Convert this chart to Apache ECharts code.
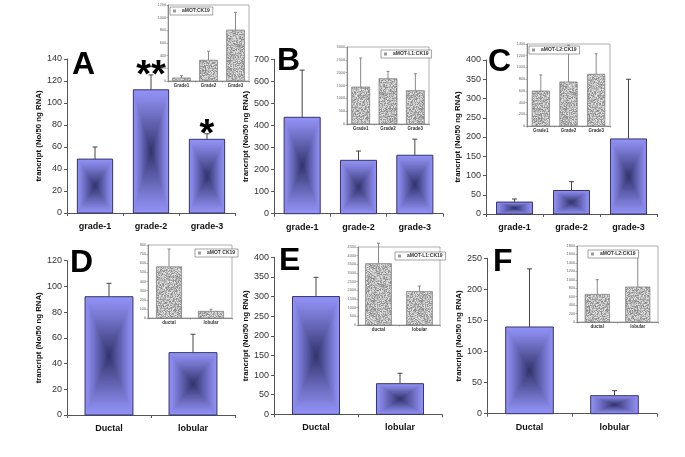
<!DOCTYPE html>
<html><head><meta charset="utf-8">
<script src="https://cdn.jsdelivr.net/npm/echarts@6/dist/echarts.min.js"></script>
<style>html,body{margin:0;padding:0;background:#fff}#c{width:685px;height:457px}</style>
</head><body><div id="c"></div>
<script>
// ---------- data ----------
const gradeCats = ['grade-1', 'grade-2', 'grade-3'];
const typeCats = ['Ductal', 'lobular'];
const insetGradeCats = ['Grade1', 'Grade2', 'Grade3'];
const insetTypeCats = ['ductal', 'lobular'];
const yTitle = 'trancript (No/50 ng RNA)';

const aVals = [49, 112, 67];      const aErr = [60, 125.5, 72];   const aSig = ['', '**', '*'];
const bVals = [437, 242, 265];    const bErr = [651, 284, 338];
const cVals = [31, 61, 195];      const cErr = [39, 84, 350];
const dVals = [92, 48.5];         const dErr = [102.4, 62.8];
const eVals = [300, 78];          const eErr = [349, 104.5];
const fVals = [139.5, 29];        const fErr = [233, 37];

const aInsetVals = [48, 328, 804];     const aInsetErr = [84, 470, 1084];
const bInsetVals = [1440, 1765, 1300]; const bInsetErr = [2570, 2050, 1960];
const cInsetVals = [597, 752, 884];    const cInsetErr = [872, 1380, 1233];
const dInsetVals = [561, 73];          const dInsetErr = [756, 95];
const eInsetVals = [3540, 1930];       const eInsetErr = [4720, 2250];
const fInsetVals = [655, 829];         const fInsetErr = [1003, 1642];

const panelLetters = ['A', 'B', 'C', 'D', 'E', 'F'];
const insetNames = ['aMOT:CK19', 'aMOT-L1:CK19', 'aMOT-L2:CK19', 'aMOT CK19', 'aMOT-L1:CK19', 'aMOT-L2:CK19'];
const mainScales = [[140, 20], [700, 100], [400, 50], [120, 20], [400, 50], [250, 50]];
const insetScales = [[1200, 200], [3000, 500], [1400, 200], [800, 100], [4500, 500], [1800, 200]];

// ---------- styling / layout ----------
const SANS = "'Liberation Sans',Arial,sans-serif";
const mainGrids = [
  {left: 67, top: 59, width: 168, height: 154, frac: 0.63, gap: 17, letter: [72, 66]},
  {left: 274, top: 59.3, width: 169, height: 154.4, frac: 0.64, gap: 16, letter: [277, 62]},
  {left: 486, top: 60, width: 171, height: 154, frac: 0.63, gap: 18, letter: [488, 63]},
  {left: 67, top: 260.7, width: 168, height: 154.3, frac: 0.57, gap: 17, letter: [70, 264]},
  {left: 274, top: 257.3, width: 168, height: 157, frac: 0.56, gap: 16, letter: [279, 262]},
  {left: 487, top: 258.3, width: 170, height: 155.4, frac: 0.56, gap: 18, letter: [493, 263]}
];
const insetGrids = [
  {left: 168, top: 5, width: 81, height: 76, frac: 0.66, legend: [170, 7]},
  {left: 347, top: 47, width: 82, height: 77, frac: 0.66, legend: [381, 50]},
  {left: 527, top: 44, width: 83, height: 82, frac: 0.63, legend: [529, 46]},
  {left: 148, top: 245, width: 84, height: 73, frac: 0.6, legend: [195, 249]},
  {left: 358, top: 247, width: 82, height: 78, frac: 0.63, legend: [395, 252]},
  {left: 577, top: 246, width: 81, height: 76, frac: 0.6, legend: [588, 250]}
];

// fine grey speckle texture for the inset bars (deterministic)
const speckle = (function () {
  const c = document.createElement('canvas'); c.width = 48; c.height = 48;
  const ctx = c.getContext('2d'); let s = 987654321;
  for (let y = 0; y < 48; y++) for (let x = 0; x < 48; x++) {
    s = (s * 1103515245 + 12345) & 0x7fffffff;
    const g = 135 + ((s >> 12) % 95);
    ctx.fillStyle = 'rgb(' + g + ',' + g + ',' + g + ')'; ctx.fillRect(x, y, 1, 1);
  }
  return c;
})();

const EDGE = [146, 146, 246], CENTER = [52, 52, 110];
function mix(t) {
  const r = i => Math.round(EDGE[i] + (CENTER[i] - EDGE[i]) * t);
  return 'rgb(' + r(0) + ',' + r(1) + ',' + r(2) + ')';
}
function mainBar(frac) {
  return function (params, api) {
    const i = api.value(0), v = api.value(1);
    const base = api.coord([i, 0]), top = api.coord([i, v]);
    const w = api.size([1, 0])[0] * frac, h = base[1] - top[1];
    const cx = base[0], cy = (base[1] + top[1]) / 2;
    const ch = []; const N = 40;
    for (let k = 0; k < N; k++) {
      const s = 1 - k / N; const t = Math.pow(k / (N - 1), 1.1);
      ch.push({type: 'rect', shape: {x: cx - w * s / 2, y: cy - h * s / 2, width: w * s, height: h * s}, style: {fill: mix(t)}});
    }
    ch.push({type: 'rect', shape: {x: cx - w / 2, y: top[1], width: w, height: h}, style: {fill: 'none', stroke: '#34346a', lineWidth: 1}});
    return {type: 'group', children: ch};
  };
}
function insetBar(frac) {
  return function (params, api) {
    const i = api.value(0), v = api.value(1);
    const base = api.coord([i, 0]), top = api.coord([i, v]);
    const w = api.size([1, 0])[0] * frac;
    return {type: 'rect', shape: {x: base[0] - w / 2, y: top[1], width: w, height: base[1] - top[1]},
      style: {fill: {image: speckle, repeat: 'repeat'}, stroke: '#777', lineWidth: 0.7}};
  };
}
function errBar(color, cap, sig) {
  return function (params, api) {
    const i = api.value(0), v = api.value(1), e = api.value(2);
    const p0 = api.coord([i, v]), p1 = api.coord([i, e]);
    const ch = [
      {type: 'line', shape: {x1: p0[0], y1: p0[1], x2: p1[0], y2: p1[1]}, style: {stroke: color, lineWidth: 1}},
      {type: 'line', shape: {x1: p1[0] - cap, y1: p1[1], x2: p1[0] + cap, y2: p1[1]}, style: {stroke: color, lineWidth: 1}}
    ];
    if (sig && sig[params.dataIndex]) {
      ch.push({type: 'text', style: {text: sig[params.dataIndex], x: p1[0], y: p1[1] + 2, textAlign: 'center', textVerticalAlign: 'middle',
        font: 'bold 38px ' + SANS, fill: '#000'}});
    }
    return {type: 'group', children: ch};
  };
}

const mains = [
  {cats: gradeCats, vals: aVals, errs: aErr, sig: aSig},
  {cats: gradeCats, vals: bVals, errs: bErr},
  {cats: gradeCats, vals: cVals, errs: cErr},
  {cats: typeCats, vals: dVals, errs: dErr},
  {cats: typeCats, vals: eVals, errs: eErr},
  {cats: typeCats, vals: fVals, errs: fErr}
];
const insets = [
  {cats: insetGradeCats, vals: aInsetVals, errs: aInsetErr},
  {cats: insetGradeCats, vals: bInsetVals, errs: bInsetErr},
  {cats: insetGradeCats, vals: cInsetVals, errs: cInsetErr},
  {cats: insetTypeCats, vals: dInsetVals, errs: dInsetErr},
  {cats: insetTypeCats, vals: eInsetVals, errs: eInsetErr},
  {cats: insetTypeCats, vals: fInsetVals, errs: fInsetErr}
];

const grid = [], xAxis = [], yAxis = [], series = [], legend = [], graphic = [];
mains.forEach((m, k) => {
  const g = mainGrids[k];
  grid.push({left: g.left, top: g.top, width: g.width, height: g.height, containLabel: false});
  xAxis.push({type: 'category', gridIndex: k, data: m.cats,
    axisLine: {lineStyle: {color: '#555', width: 1}}, axisTick: {show: true, length: 3, lineStyle: {color: '#555'}},
    axisLabel: {fontSize: 9, fontWeight: 'bold', color: '#111', margin: 9, fontFamily: SANS}});
  yAxis.push({type: 'value', gridIndex: k, min: 0, max: mainScales[k][0], interval: mainScales[k][1],
    name: yTitle, nameLocation: 'middle', nameGap: g.gap, nameRotate: 90,
    nameTextStyle: {fontSize: 7.8, fontWeight: 'bold', color: '#111', fontFamily: SANS},
    axisLine: {show: true, lineStyle: {color: '#555', width: 1}}, axisTick: {show: true, length: 3, lineStyle: {color: '#555'}},
    splitLine: {show: false}, axisLabel: {fontSize: 9, color: '#333', margin: 5, fontFamily: SANS}});
  series.push({type: 'custom', xAxisIndex: k, yAxisIndex: k, z: 2, renderItem: mainBar(g.frac),
    data: m.vals.map((v, i) => [i, v])});
  series.push({type: 'custom', xAxisIndex: k, yAxisIndex: k, z: 3, renderItem: errBar('#444', 2.5, m.sig),
    data: m.vals.map((v, i) => [i, v, m.errs[i]])});
  graphic.push({type: 'text', left: g.letter[0], top: g.letter[1] - 17, z: 20,
    style: {text: panelLetters[k], font: 'bold 32px ' + SANS, fill: '#000'}});
});
insets.forEach((m, j) => {
  const g = insetGrids[j]; const k = j + 6;
  grid.push({left: g.left, top: g.top, width: g.width, height: g.height, show: true, backgroundColor: '#fff',
    borderColor: '#9a9a9a', borderWidth: 0.8, z: 5});
  xAxis.push({type: 'category', gridIndex: k, data: m.cats, z: 6,
    axisLine: {lineStyle: {color: '#777', width: 0.8}}, axisTick: {show: true, length: 1.5, lineStyle: {color: '#777', width: 0.6}},
    axisLabel: {fontSize: 4.5, fontWeight: 'bold', color: '#333', margin: 2.5, fontFamily: SANS}});
  yAxis.push({type: 'value', gridIndex: k, min: 0, max: insetScales[j][0], interval: insetScales[j][1], z: 6,
    axisLine: {show: true, lineStyle: {color: '#777', width: 0.8}}, axisTick: {show: true, length: 1.5, lineStyle: {color: '#777', width: 0.6}},
    splitLine: {show: false}, axisLabel: {fontSize: 3.8, color: '#666', margin: 2, fontFamily: SANS, formatter: v => String(v)}});
  series.push({type: 'custom', name: insetNames[j], xAxisIndex: k, yAxisIndex: k, z: 7, renderItem: insetBar(g.frac),
    itemStyle: {color: '#9a9a9a'}, data: m.vals.map((v, i) => [i, v])});
  series.push({type: 'custom', xAxisIndex: k, yAxisIndex: k, z: 8, renderItem: errBar('#888', 1.5, null),
    data: m.vals.map((v, i) => [i, v, m.errs[i]])});
  legend.push({data: [insetNames[j]], left: g.legend[0], top: g.legend[1], orient: 'horizontal', z: 10,
    itemWidth: 3, itemHeight: 3, itemGap: 2, padding: [1.5, 3], borderColor: '#666', borderWidth: 0.6, backgroundColor: '#fff',
    icon: 'rect', selectedMode: false, textStyle: {fontSize: 5, fontWeight: 'bold', color: '#333', fontFamily: SANS, padding: [0, 0, 0, 1]}});
});

const chart = echarts.init(document.getElementById('c'), null, {renderer: 'canvas'});
chart.setOption({animation: false, backgroundColor: '#fff', grid, xAxis, yAxis, series, legend, graphic});
</script></body></html>
